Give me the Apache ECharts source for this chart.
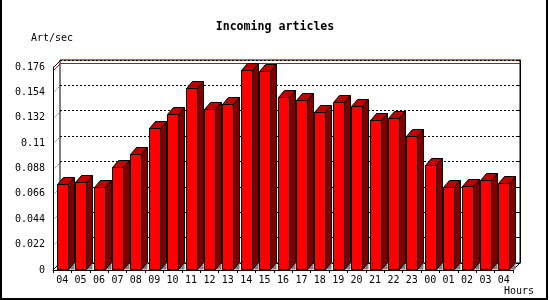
<!DOCTYPE html>
<html><head><meta charset="utf-8">
<script src="https://cdn.jsdelivr.net/npm/echarts@6/dist/echarts.min.js"></script>
<style>html,body{margin:0;padding:0;background:#fff}#c{width:550px;height:300px}</style>
</head><body><div id="c"></div>
<script>
const hours = ['04','05','06','07','08','09','10','11','12','13','14','15','16','17','18','19','20','21','22','23','00','01','02','03','04'];
const artPerSec = [0.0746,0.0760,0.0717,0.0893,0.1003,0.1231,0.1353,0.1578,0.1396,0.1437,0.1731,0.1725,0.1500,0.1474,0.1370,0.1457,0.1422,0.1300,0.1318,0.1162,0.0910,0.0717,0.0728,0.0780,0.0752];
const yTicks = [0,0.022,0.044,0.066,0.088,0.11,0.132,0.154,0.176];
const yTickLabels = ['0','0.022','0.044','0.066','0.088','0.11','0.132','0.154','0.176'];
const titleText = 'Incoming articles';
const yName = 'Art/sec';
const xName = 'Hours';

const MONO = '"DejaVu Sans Mono", "Liberation Mono", monospace';
const yMax = yTicks[yTicks.length-1], yStep = yTicks[1];
const maxVal = Math.max(...artPerSec);
const BOX = 7, DX = 6, DY = 7;

function renderBar(params, api) {
  const i = api.value(0), v = api.value(1);
  const top = api.coord([i, v]), base = api.coord([i, 0]);
  const xl = Math.round(top[0] - 5.5) + 0.5, xr = xl + 11;
  const yt = Math.round(top[1]) + 0.5, yb = Math.round(base[1]) - 0.5;
  return {type:'group', children:[
    {type:'polygon', shape:{points:[[xr,yb],[xr+DX,yb-DY],[xr+DX,yb]]}, style:{fill:'#808080', stroke:null}},
    {type:'polygon', shape:{points:[[xr,yt],[xr+DX,yt-DY],[xr+DX,yb-DY],[xr,yb]]}, style:{fill:'#800000', stroke:'#000', lineWidth:1}},
    {type:'polygon', shape:{points:[[xl,yt],[xl+DX,yt-DY],[xr+DX,yt-DY],[xr,yt]]}, style:{fill:'#C00000', stroke:'#000', lineWidth:1}},
    {type:'rect', shape:{x:xl, y:yt, width:11, height:yb-yt}, style:{fill:'#FF0000', stroke:'#000', lineWidth:1}}
  ]};
}

function renderFrame(params, api) {
  const bw = api.size([1,0])[0];
  const left = Math.round(api.coord([0,0])[0] - bw/2) + 0.5;
  const right = Math.round(api.coord([hours.length-1,0])[0] + bw/2) + 0.5;
  const y0 = Math.round(api.coord([0,0])[1]) - 0.5;
  const yT = Math.round(api.coord([0,yMax])[1]) + 0.5;
  const yM = Math.round(api.coord([0,api.value(1)])[1]) + 0.5;
  const ch = [
    {type:'line', shape:{x1:left,y1:yT,x2:left+BOX,y2:yT-BOX}, style:{stroke:'#000', lineWidth:1}},
    {type:'line', shape:{x1:left,y1:y0,x2:left+BOX,y2:y0-BOX}, style:{stroke:'#000', lineWidth:1}},
    {type:'line', shape:{x1:right,y1:y0,x2:right+BOX,y2:y0-BOX}, style:{stroke:'#000', lineWidth:1}},
    {type:'polyline', shape:{points:[[left,yM],[left+BOX,yM-BOX],[right+BOX,yM-BOX]]}, style:{stroke:'#E00000', lineWidth:1, fill:null}}
  ];
  yTicks.slice(1,-1).forEach(t => {
    const y = Math.round(api.coord([0,t])[1]) + 0.5;
    ch.push({type:'line', shape:{x1:left,y1:y,x2:left+BOX,y2:y-BOX}, style:{stroke:'#000', lineWidth:1, lineDash:[1,2]}});
  });
  return {type:'group', children:ch};
}

const chart = echarts.init(document.getElementById('c'), null, {renderer:'canvas'});
chart.setOption({
  animation:false,
  backgroundColor:'#fff',
  grid:[
    {left:53, top:67, width:460, height:203, show:false},
    {left:60, top:60, width:460, height:203, show:true, borderColor:'#000', borderWidth:1, backgroundColor:'transparent'}
  ],
  xAxis:[
    {type:'category', gridIndex:0, data:hours, boundaryGap:true,
     axisLine:{show:true, lineStyle:{color:'#000', width:1}},
     axisTick:{show:true, length:3, lineStyle:{color:'#000'}},
     axisLabel:{interval:0, margin:5, color:'#000', fontFamily:MONO, fontSize:10}},
    {type:'category', gridIndex:1, data:hours, show:false}
  ],
  yAxis:[
    {type:'value', gridIndex:0, min:0, max:yMax, interval:yStep,
     axisLine:{show:true, lineStyle:{color:'#000', width:1}},
     axisTick:{show:false}, splitLine:{show:false},
     axisLabel:{margin:8, color:'#000', fontFamily:MONO, fontSize:10,
       formatter: v => yTickLabels[Math.round(v / yStep)]}},
    {type:'value', gridIndex:1, min:0, max:yMax, interval:yStep, position:'right',
     axisLine:{show:true, lineStyle:{color:'#000', width:1}},
     axisTick:{show:true, inside:true, length:3, lineStyle:{color:'#000'}},
     axisLabel:{show:false},
     splitLine:{show:true, lineStyle:{color:'#000', width:1, type:[2,2]}}}
  ],
  graphic:[
    {type:'text', left:'center', top:21, style:{text:titleText, font:'bold 11.6px '+MONO, fill:'#000'}},
    {type:'text', left:31, top:33, style:{text:yName, font:'10px '+MONO, fill:'#000'}},
    {type:'text', left:504, top:286, style:{text:xName, font:'10px '+MONO, fill:'#000'}},
    {type:'polyline', shape:{points:[[1,0],[1,299],[547,299],[547,0]]}, style:{stroke:'#000', lineWidth:2, fill:null}}
  ],
  series:[
    {type:'custom', xAxisIndex:0, yAxisIndex:0, z:1, renderItem:renderFrame, data:[[0, maxVal]], encode:{x:0,y:1}},
    {type:'custom', xAxisIndex:0, yAxisIndex:0, z:3, renderItem:renderBar,
     data:artPerSec.map((v,i)=>[i,v]), encode:{x:0,y:1}}
  ]
});
</script></body></html>
